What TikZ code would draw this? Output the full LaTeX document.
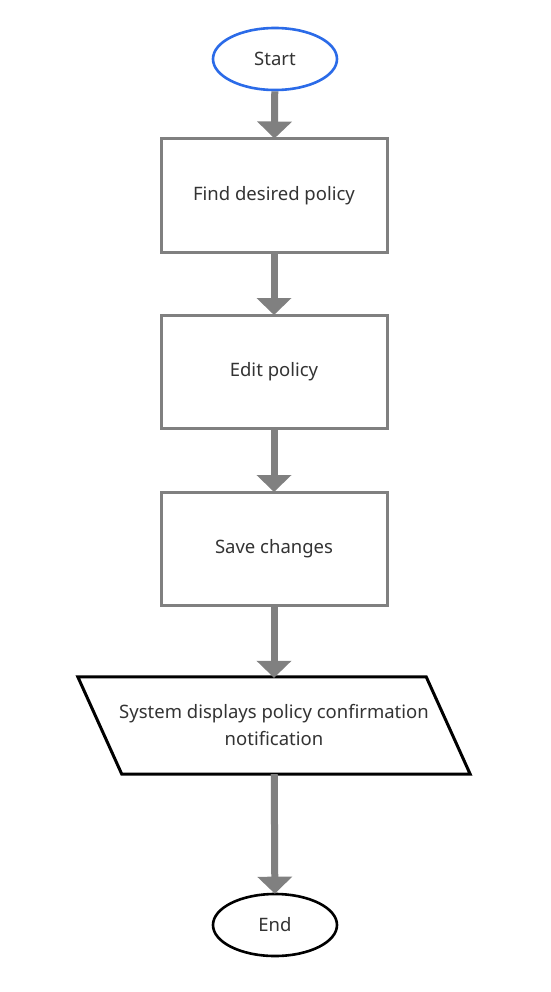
\documentclass[tikz,border=0pt]{standalone}
\usepackage{fontspec}
\setmainfont{Noto Sans}
\usetikzlibrary{arrows.meta,shapes.geometric}
\definecolor{flowgray}{HTML}{808080}
\definecolor{startblue}{HTML}{2B6BE8}
\definecolor{txt}{HTML}{333333}
\begin{document}
\begin{tikzpicture}[x=1pt,y=-1pt,
  every node/.style={font=\fontsize{18.5}{27}\selectfont, text=txt},
  term/.style={ellipse, draw, line width=2.6pt, minimum width=124pt, minimum height=62pt, inner sep=0pt},
  procbox/.style={rectangle, draw=flowgray, line width=3pt, minimum width=226pt, minimum height=113pt, inner sep=0pt},
  flow/.style={draw=flowgray, line width=7pt, -{Triangle[width=34pt,length=17pt]}, shorten >=-1pt}
]
\useasboundingbox (0,0) rectangle (550,992);
\fill[white] (0,0) rectangle (550,992);
\node[term, draw=startblue] (start) at (275,59) {Start};
\node[procbox] (b1) at (274,195.5) {Find desired policy};
\node[procbox] (b2) at (274,372) {Edit policy};
\node[procbox] (b3) at (274,549) {Save changes};
\node[minimum width=348pt, minimum height=97pt, inner sep=0pt, align=center] (p) at (274,725.5) {System displays policy confirmation\\notification};
\draw[line width=3pt, line join=miter] ([xshift=-22pt]p.north west) -- ([xshift=-22pt]p.north east) -- ([xshift=22pt]p.south east) -- ([xshift=22pt]p.south west) -- cycle;
\node[term, draw=black] (end) at (275,925) {End};
\draw[flow] (start) -- (b1);
\draw[flow] (b1) -- (b2);
\draw[flow] (b2) -- (b3);
\draw[flow] (b3) -- (p);
\draw[flow] (p) -- (end);
\end{tikzpicture}
\end{document}
